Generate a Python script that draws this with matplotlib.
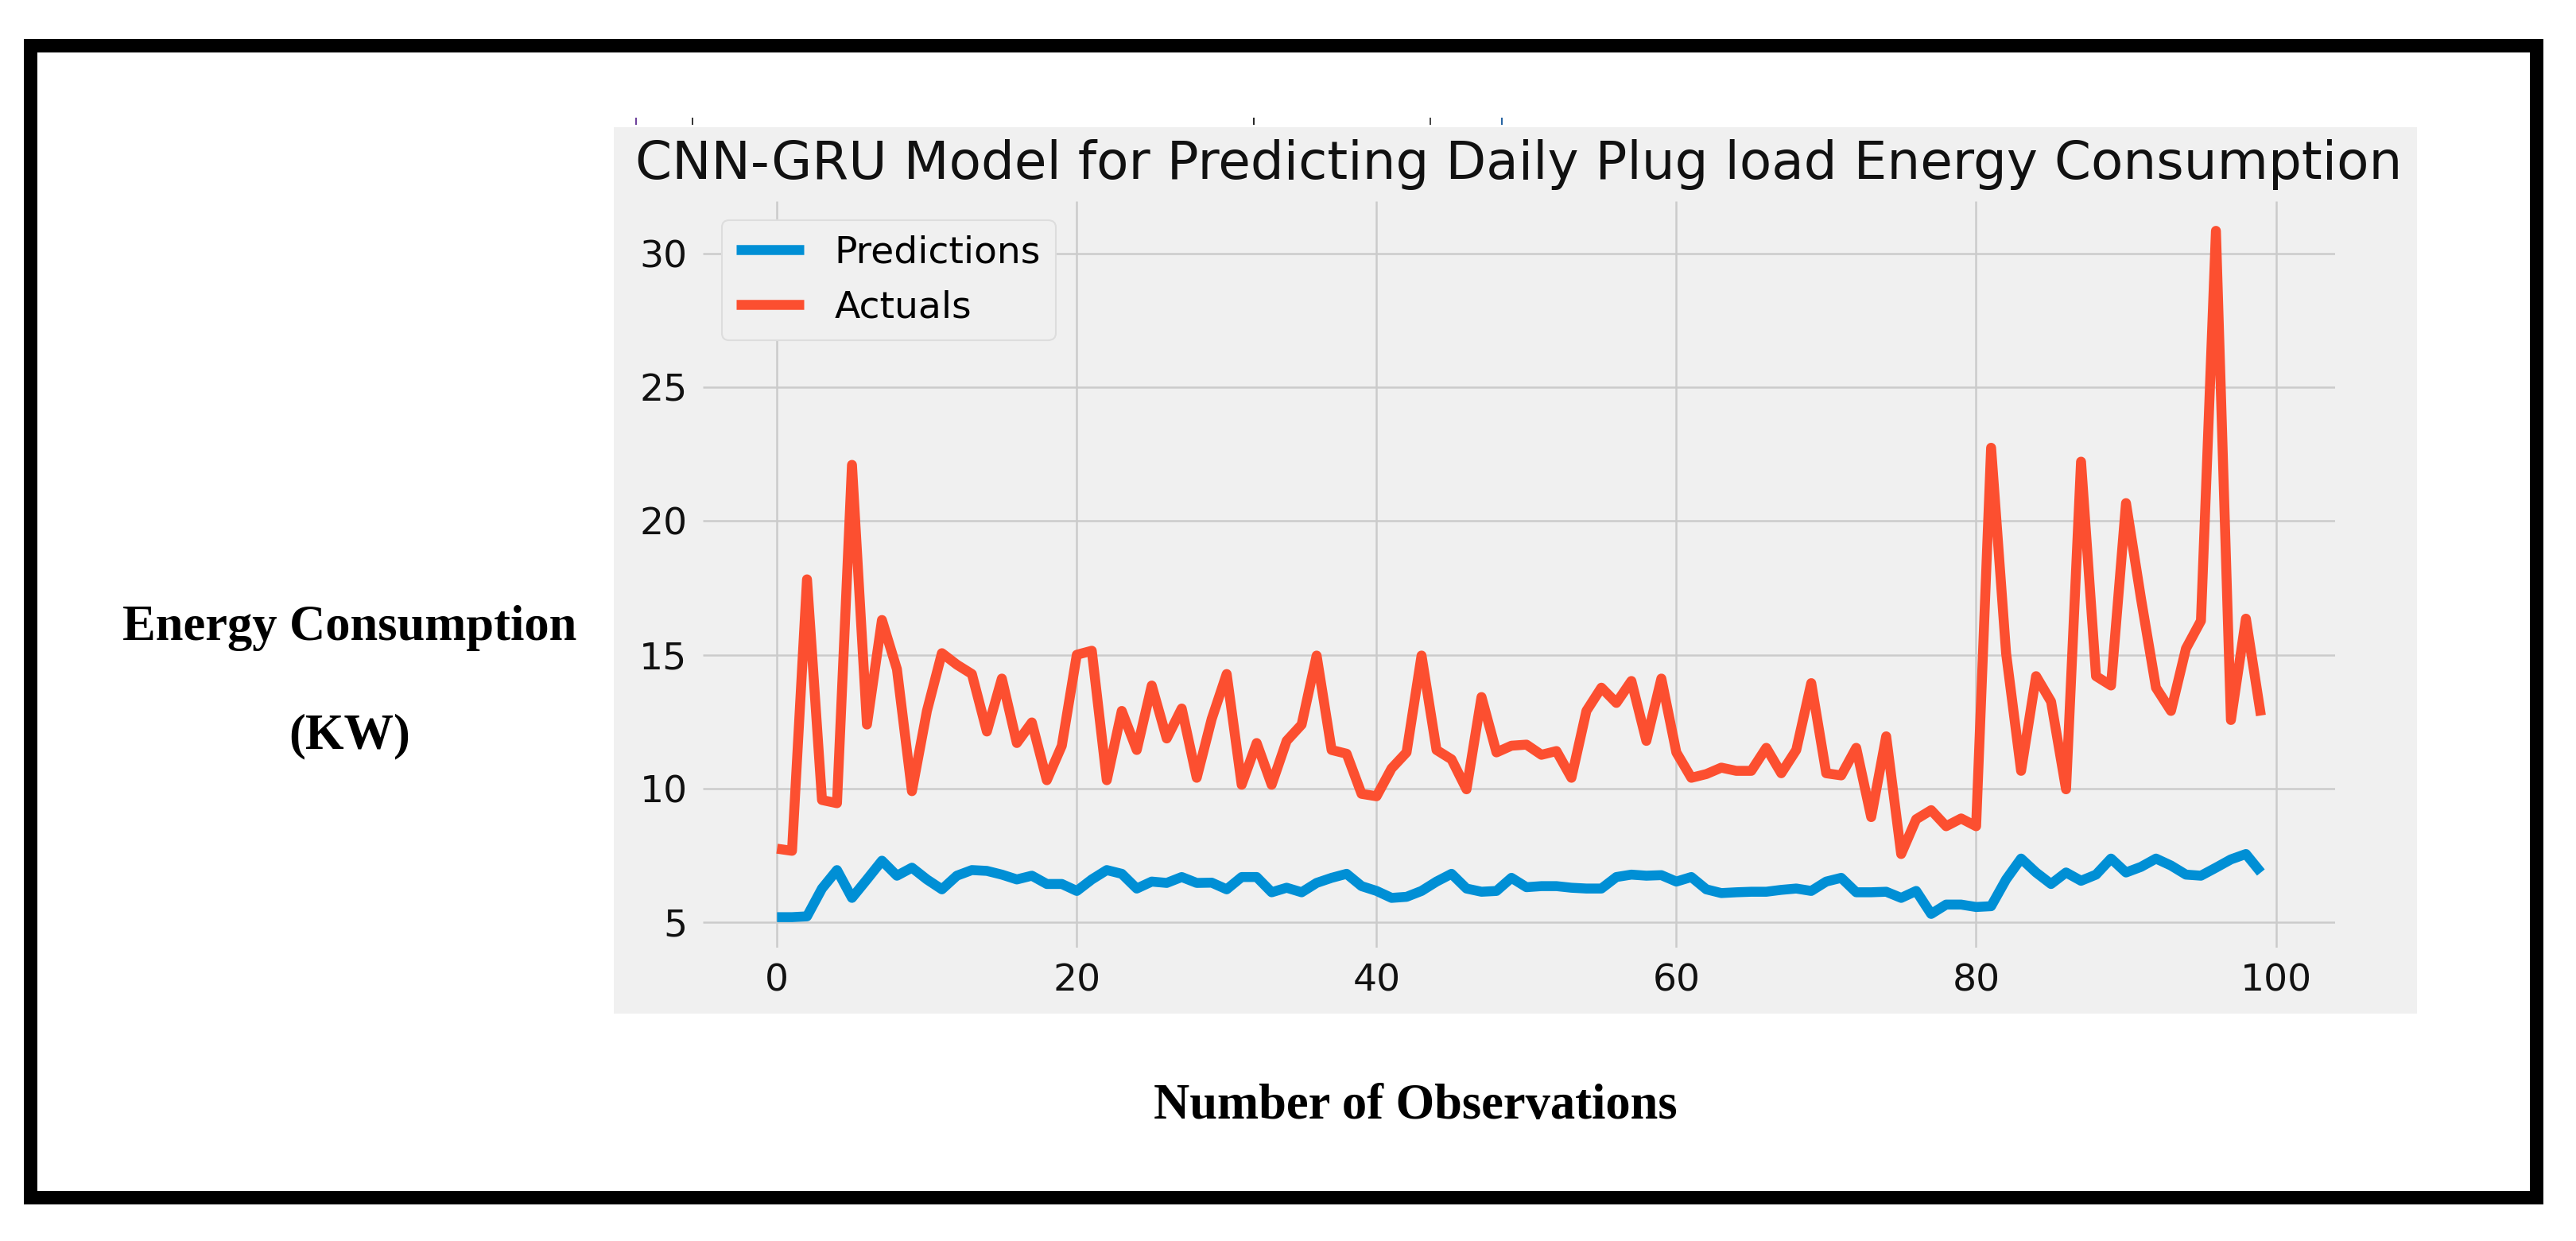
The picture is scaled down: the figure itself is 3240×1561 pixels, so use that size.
import numpy as np
import matplotlib
matplotlib.use("Agg")
import matplotlib.pyplot as plt
from matplotlib.patches import Rectangle
from matplotlib.lines import Line2D

# values
predictions = [5.19, 5.19, 5.22, 6.26, 6.95, 5.91, 6.60, 7.30, 6.74, 7.04,
               6.60, 6.23, 6.74, 6.95, 6.92, 6.78, 6.60, 6.74, 6.43, 6.43,
               6.17, 6.60, 6.95, 6.81, 6.26, 6.52, 6.47, 6.69, 6.47, 6.48,
               6.23, 6.69, 6.69, 6.12, 6.29, 6.12, 6.47, 6.66, 6.81, 6.35,
               6.17, 5.91, 5.95, 6.17, 6.52, 6.81, 6.26, 6.14, 6.17, 6.66,
               6.31, 6.35, 6.35, 6.29, 6.26, 6.26, 6.69, 6.78, 6.74, 6.76,
               6.52, 6.69, 6.23, 6.09, 6.12, 6.14, 6.14, 6.21, 6.26, 6.17,
               6.52, 6.66, 6.12, 6.12, 6.14, 5.91, 6.17, 5.31, 5.66, 5.66,
               5.57, 5.60, 6.60, 7.38, 6.86, 6.43, 6.86, 6.55, 6.78, 7.38,
               6.86, 7.07, 7.38, 7.12, 6.78, 6.74, 7.04, 7.35, 7.55, 6.86]

actuals = [7.75, 7.67, 17.82, 9.57, 9.45, 22.10, 12.39, 16.30, 14.46, 9.90,
           12.90, 15.06, 14.63, 14.28, 12.13, 14.11, 11.70, 12.47, 10.31, 11.60,
           15.00, 15.15, 10.31, 12.90, 11.44, 13.85, 11.87, 12.99, 10.40, 12.60,
           14.28, 10.14, 11.70, 10.14, 11.78, 12.39, 14.97, 11.44, 11.30, 9.80,
           9.71, 10.75, 11.35, 14.97, 11.44, 11.09, 9.97, 13.42, 11.35, 11.60,
           11.64, 11.26, 11.40, 10.40, 12.90, 13.77, 13.20, 14.02, 11.78, 14.11,
           11.35, 10.40, 10.54, 10.78, 10.66, 10.66, 11.52, 10.57, 11.44, 13.94,
           10.57, 10.49, 11.52, 8.93, 11.95, 7.55, 8.85, 9.19, 8.59, 8.88,
           8.59, 22.74, 15.06, 10.66, 14.20, 13.25, 9.97, 22.22, 14.20, 13.85,
           20.67, 17.10, 13.77, 12.90, 15.23, 16.27, 30.85, 12.56, 16.35, 12.73]

obs = np.arange(len(actuals))

title = "CNN-GRU Model for Predicting Daily Plug load Energy Consumption"
W, H = 3241, 1561

plt.style.use("fivethirtyeight")
fig = plt.figure(figsize=(W / 100, H / 100), dpi=100, facecolor="white")

# gray panel of the original screenshot
fig.add_artist(Rectangle((772 / W, 1 - 1275 / H), (3040 - 772) / W, (1275 - 160) / H,
                         transform=fig.transFigure, facecolor="#f0f0f0",
                         edgecolor="none", zorder=0))

# thick black frame around everything
fig.add_artist(Rectangle((37.5 / W, 1 - 1505.5 / H), (3190.5 - 37.5) / W, (1505.5 - 56.5) / H,
                         transform=fig.transFigure, facecolor="none",
                         edgecolor="black", linewidth=12.2, zorder=5))

# little cut-off fragments above the panel
for x0, col in [(800, "#6a3d9a"), (871, "#333333"), (1577, "#222222"),
                (1799, "#444444"), (1889, "#2060a0")]:
    fig.add_artist(Line2D([x0 / W, x0 / W], [1 - 148 / H, 1 - 157 / H],
                          transform=fig.transFigure, color=col, linewidth=1.4))

ax = fig.add_axes([884 / W, 1 - 1192 / H, (2937 - 884) / W, (1192 - 253) / H])
ax.set_facecolor("#f0f0f0")
ax.plot(obs, predictions, color="#008fd5", linewidth=9, label="Predictions")
ax.plot(obs, actuals, color="#fc4f30", linewidth=9, label="Actuals")

ax.set_ylim(4.05, 31.96)
ax.set_yticks([5, 10, 15, 20, 25, 30])
ax.set_xticks([0, 20, 40, 60, 80, 100])
ax.grid(True, color="#cbcbcb", linewidth=1.8)
ax.tick_params(axis="both", labelsize=34, pad=14, length=0, colors="#111111")
for s in ax.spines.values():
    s.set_visible(False)

ax.set_title(title, fontsize=47.5, pad=20, color="#111111")

leg = ax.legend(loc="upper left", fontsize=34, handlelength=1.8, handletextpad=0.8,
                fancybox=True, framealpha=1.0)
leg.get_frame().set_facecolor("#f0f0f0")
leg.get_frame().set_edgecolor("#dddddd")
leg.get_frame().set_linewidth(1.5)

serif = dict(family="Liberation Serif", fontweight="bold", fontsize=45,
             ha="center", va="center", color="black")
fig.text(440 / W, 1 - 790 / H, "Energy Consumption", **serif)
fig.text(440 / W, 1 - 926 / H, "(KW)", **serif)
fig.text(1780 / W, 1 - 1392 / H, "Number of Observations", **serif)

fig.savefig("out.png", dpi=100, facecolor="white")
